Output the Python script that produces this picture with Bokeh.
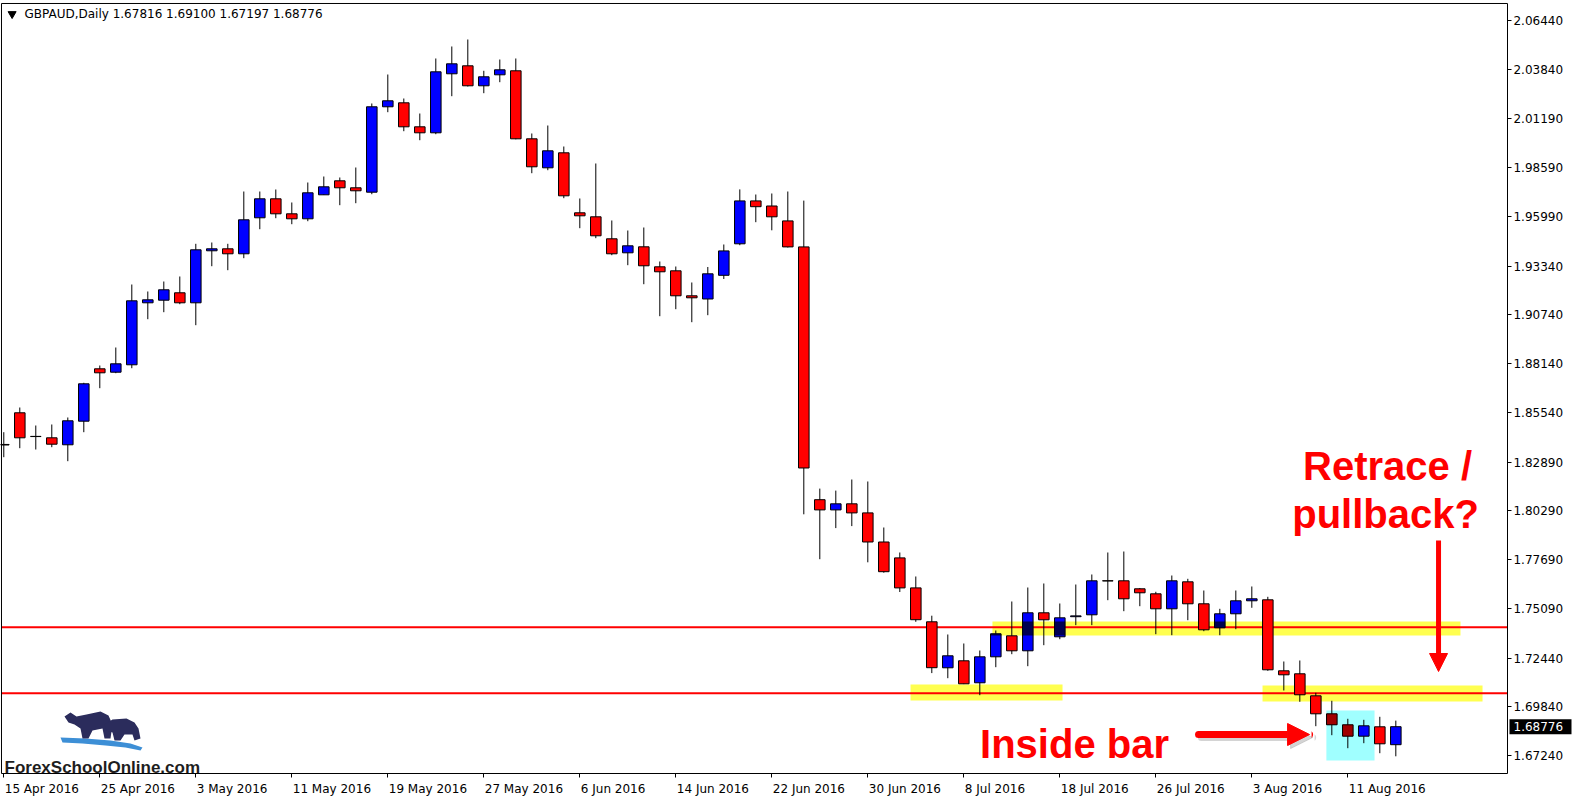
from bokeh.plotting import figure
from bokeh.models import (Range1d, FixedTicker, PrintfTickFormatter, LinearAxis, Arrow,
                          NormalHead)
from bokeh.core.properties import value
from bokeh.embed import file_html
from bokeh.resources import INLINE

# ---------------- data (GBPAUD daily, 15 Apr 2016 .. 16 Aug 2016) ----------------
opens = [1.83830, 1.85518, 1.84260, 1.84184, 1.83811, 1.85070, 1.87864, 1.87683, 1.88078, 1.91384,
         1.91523, 1.91918, 1.91384, 1.94158, 1.94264, 1.93998, 1.95918, 1.96931, 1.96131, 1.95864,
         1.97144, 1.97891, 1.97518, 1.97283, 2.01838, 2.02051, 2.00771, 2.00451, 2.03598, 2.04024,
         2.02958, 2.03544, 2.03758, 2.00131, 1.98584, 1.99384, 1.96184, 1.95971, 1.94798, 1.94051,
         1.94371, 1.93304, 1.93091, 1.91758, 1.91587, 1.92851, 1.94531, 1.96819, 1.96547, 1.95752,
         1.94366, 1.80883, 1.80339, 1.80664, 1.80179, 1.78627, 1.77779, 1.76179, 1.74371, 1.71918,
         1.72291, 1.71118, 1.72504, 1.73624, 1.72824, 1.74851, 1.73571, 1.74643, 1.74744, 1.76560,
         1.76558, 1.76131, 1.75864, 1.75064, 1.76504, 1.75331, 1.74051, 1.74798, 1.75491, 1.75544,
         1.71758, 1.71598, 1.70424, 1.69464, 1.68878, 1.68270, 1.68771, 1.67816]
highs = [1.84483, 1.85800, 1.84840, 1.84894, 1.85267, 1.87118, 1.88040, 1.89000, 1.92360, 1.91987,
         1.92520, 1.92787, 1.94531, 1.94600, 1.94531, 1.97320, 1.97320, 1.97427, 1.96734, 1.97800,
         1.98120, 1.98067, 1.98600, 2.02014, 2.03560, 2.02280, 2.01480, 2.04414, 2.05054, 2.05427,
         2.03758, 2.04360, 2.04414, 2.00414, 2.00840, 1.99720, 1.96947, 1.98814, 1.95774, 1.95240,
         1.95400, 1.93587, 1.93320, 1.92467, 1.93294, 1.94494, 1.97432, 1.97160, 1.97214, 1.97320,
         1.96835, 1.81475, 1.81368, 1.81960, 1.81854, 1.79400, 1.78067, 1.76787, 1.74696, 1.73694,
         1.73214, 1.72840, 1.73907, 1.75454, 1.76200, 1.76414, 1.75347, 1.76360, 1.76894, 1.78067,
         1.78120, 1.76174, 1.75971, 1.76840, 1.76664, 1.76040, 1.75064, 1.76040, 1.76254, 1.75704,
         1.72254, 1.72307, 1.70584, 1.70158, 1.69198, 1.69144, 1.69304, 1.69100]
lows = [1.83150, 1.83630, 1.83560, 1.83683, 1.82936, 1.84483, 1.86830, 1.87630, 1.87896, 1.90510,
        1.90883, 1.91310, 1.90190, 1.93336, 1.93123, 1.93763, 1.95310, 1.95896, 1.95576, 1.95736,
        1.97133, 1.96590, 1.96696, 1.97176, 2.01550, 2.00536, 2.00056, 2.00376, 2.02403, 2.02920,
        2.02563, 2.03150, 2.00104, 1.98296, 1.98456, 1.96963, 1.95363, 1.94830, 1.93923, 1.93390,
        1.92376, 1.90670, 1.91043, 1.90350, 1.90723, 1.92654, 1.94456, 1.95683, 1.95251, 1.94334,
        1.80104, 1.77710, 1.79368, 1.79475, 1.77544, 1.76990, 1.75960, 1.74371, 1.71635, 1.71363,
        1.71048, 1.70456, 1.71950, 1.72643, 1.72003, 1.73123, 1.73443, 1.74190, 1.74190, 1.75523,
        1.74936, 1.75203, 1.73710, 1.73656, 1.74456, 1.73870, 1.73656, 1.73976, 1.75118, 1.71758,
        1.70707, 1.70104, 1.68803, 1.68323, 1.67630, 1.67896, 1.67363, 1.67197]
closes = [1.83800, 1.84184, 1.84250, 1.83843, 1.85091, 1.87064, 1.87651, 1.88131, 1.91491, 1.91544,
          1.92078, 1.91384, 1.94211, 1.94264, 1.93998, 1.95811, 1.96931, 1.96131, 1.95864, 1.97251,
          1.97571, 1.97518, 1.97358, 2.01838, 2.02158, 2.00771, 2.00451, 2.03704, 2.04131, 2.02958,
          2.03438, 2.03811, 2.00131, 1.98638, 1.99491, 1.97091, 1.96024, 1.94958, 1.93998, 1.94424,
          1.93358, 1.93038, 1.91758, 1.91651, 1.92931, 1.94152, 1.96819, 1.96510, 1.95971, 1.94366,
          1.82574, 1.80339, 1.80664, 1.80179, 1.78627, 1.77043, 1.76179, 1.74483, 1.71923, 1.72558,
          1.71064, 1.72504, 1.73731, 1.72824, 1.74851, 1.74478, 1.74584, 1.74686, 1.76558, 1.76550,
          1.75598, 1.75918, 1.75064, 1.76558, 1.75331, 1.73944, 1.74798, 1.75491, 1.75598, 1.71811,
          1.71544, 1.70478, 1.69464, 1.68878, 1.68270, 1.68824, 1.67864, 1.68776]

date_labels = ["15 Apr 2016", "25 Apr 2016", "3 May 2016", "11 May 2016", "19 May 2016",
               "27 May 2016", "6 Jun 2016", "14 Jun 2016", "22 Jun 2016", "30 Jun 2016",
               "8 Jul 2016", "18 Jul 2016", "26 Jul 2016", "3 Aug 2016", "11 Aug 2016"]
date_label_bars = [0, 6, 12, 18, 24, 30, 36, 42, 48, 54, 60, 66, 72, 78, 84]

price_ticks = [2.06440, 2.03840, 2.01190, 1.98590, 1.95990, 1.93340, 1.90740, 1.88140,
               1.85540, 1.82890, 1.80290, 1.77690, 1.75090, 1.72440, 1.69840, 1.67240]

level_lines = [1.74083, 1.70563]

zone_left = [56.67, 61.79, 78.67, 82.66]
zone_right = [66.17, 91.04, 92.42, 85.67]
zone_bottom = [1.70173, 1.73640, 1.70120, 1.66974]
zone_top = [1.71027, 1.74387, 1.70974, 1.69640]
zone_colors = ["#ffff50", "#ffff50", "#ffff50", "#a0ffff"]

# ---------------- layout constants ----------------
BULL = "#0000ff"
BEAR = "#ff0000"
RED = "#ff0000"
W, H = 1575, 800
X_LO, X_HI = -0.206, 98.23          # whole drawing area (bars)
Y_LO, Y_HI = 1.64840, 2.07507       # whole drawing area (price)
X_CHART_L, X_CHART_R = -0.144, 93.98
Y_CHART_B, Y_CHART_T = 1.66280, 2.07347
PX_PER_BAR = W / (X_HI - X_LO)
PX_PER_PRICE = H / (Y_HI - Y_LO)


def hex2rgb(h):
    h = h.lstrip("#")
    return tuple(int(h[i:i + 2], 16) for i in (0, 2, 4))


def multiply(c1, c2):
    a, b = hex2rgb(c1), hex2rgb(c2)
    return "#%02x%02x%02x" % tuple(int(round(x * y / 255)) for x, y in zip(a, b))


n = len(opens)
idx = list(range(n))
body_top = [max(o, c) for o, c in zip(opens, closes)]
body_bot = [min(o, c) for o, c in zip(opens, closes)]
body_col = [BULL if c > o else BEAR for o, c in zip(opens, closes)]

p = figure(width=W, height=H, x_range=Range1d(X_LO, X_HI), y_range=Range1d(Y_LO, Y_HI),
           x_axis_location=None, y_axis_location=None, toolbar_location=None,
           output_backend="svg", min_border=0, min_border_left=0, min_border_right=0,
           min_border_top=0, min_border_bottom=0,
           background_fill_color="white", border_fill_color="white")
p.xgrid.visible = False
p.ygrid.visible = False
p.outline_line_color = None

# highlight zones
p.quad(left=zone_left, right=zone_right, bottom=zone_bottom, top=zone_top,
       fill_color=zone_colors, line_color=None)

# horizontal levels across the chart area
p.segment(x0=[X_CHART_L] * len(level_lines), x1=[X_CHART_R] * len(level_lines),
          y0=level_lines, y1=level_lines, line_color=RED, line_width=2)

# wicks and bodies
p.segment(x0=idx, x1=idx, y0=lows, y1=highs, line_color="black", line_width=1)
p.vbar(x=idx, width=0.66, top=body_top, bottom=body_bot, fill_color=body_col, line_color=None)

ov_x, ov_t, ov_b, ov_c = [], [], [], []
for i in idx:
    for zl, zr, zb, zt, zc in zip(zone_left, zone_right, zone_bottom, zone_top, zone_colors):
        if zl <= i <= zr:
            t, b = min(body_top[i], zt), max(body_bot[i], zb)
            col = multiply(body_col[i], zc)
            if t > b and col != body_col[i]:
                ov_x.append(i); ov_t.append(t); ov_b.append(b); ov_c.append(col)
p.vbar(x=ov_x, width=0.66, top=ov_t, bottom=ov_b, fill_color=ov_c, line_color=None)
p.vbar(x=idx, width=0.66, top=body_top, bottom=body_bot, fill_color=None,
       line_color="black", line_width=1)

# chart border (top and left; right and bottom are the axis lines)
p.segment(x0=[X_CHART_L, X_CHART_L], x1=[X_CHART_R, X_CHART_L],
          y0=[Y_CHART_T, Y_CHART_B], y1=[Y_CHART_T, Y_CHART_T],
          line_color="black", line_width=1)

# ---------------- axes ----------------
yax = LinearAxis(fixed_location=X_CHART_R, bounds=(Y_CHART_B, Y_CHART_T),
                 ticker=FixedTicker(ticks=price_ticks),
                 formatter=PrintfTickFormatter(format="%.5f"))
yax.major_label_text_font = "DejaVu Sans"
yax.major_label_text_font_size = "12px"
yax.major_label_text_color = "black"
yax.major_tick_in = 0
yax.major_tick_out = 4
yax.minor_tick_line_color = None
yax.axis_line_color = "black"
yax.major_label_standoff = 2
p.add_layout(yax, "right")

CW = {d: 0.636 for d in "0123456789"}
CW.update({" ": 0.318, "A": 0.684, "p": 0.635, "r": 0.411, "M": 0.863, "a": 0.613,
           "y": 0.592, "J": 0.295, "u": 0.634, "n": 0.634, "l": 0.278, "g": 0.635})
centers = [round(b + (sum(CW.get(ch, 0.6) for ch in s) * 12 / 2 + 1) / PX_PER_BAR, 3)
           for b, s in zip(date_label_bars, date_labels)]
xax = LinearAxis(fixed_location=Y_CHART_B, bounds=(X_CHART_L, X_CHART_R),
                 ticker=FixedTicker(ticks=centers, minor_ticks=date_label_bars))
xax.major_label_overrides = {c: s for c, s in zip(centers, date_labels)}
xax.major_tick_line_color = None
xax.major_tick_in = 0
xax.major_tick_out = 0
xax.minor_tick_in = 0
xax.minor_tick_out = 4
xax.minor_tick_line_color = "black"
xax.axis_line_color = "black"
xax.major_label_standoff = 4
xax.major_label_text_font = "DejaVu Sans"
xax.major_label_text_font_size = "12px"
xax.major_label_text_color = "black"
p.add_layout(xax, "below")

# ---------------- header ----------------
title = "GBPAUD,Daily  %.5f %.5f %.5f %.5f" % (opens[-1], highs[-1], lows[-1], closes[-1])
p.scatter(x=[0.52], y=[2.0679], marker="inverted_triangle", size=8, fill_color="black",
          line_color="black")
p.text(x=[1.29], y=[2.0679], text=[title], text_font=value("DejaVu Sans"),
       text_font_size="12px", text_baseline="middle", text_align="left", text_color="black")

# current price box on the price scale
box_half = 7.5 / PX_PER_PRICE
p.quad(left=[X_CHART_R + 2 / PX_PER_BAR], right=[X_CHART_R + 64 / PX_PER_BAR],
       bottom=[closes[-1] - box_half], top=[closes[-1] + box_half],
       fill_color="black", line_color=None)
p.text(x=[X_CHART_R + 6 / PX_PER_BAR], y=[closes[-1]], text=["%.5f" % closes[-1]],
       text_font=value("DejaVu Sans"), text_font_size="12px", text_color="white",
       text_baseline="middle", text_align="left")

# ---------------- annotations ----------------
p.text(x=[86.48, 86.36], y=[1.8268, 1.8011], text=["Retrace /", "pullback?"],
       text_font=value("Liberation Sans"), text_font_style="bold", text_font_size="40px",
       text_align="center", text_baseline="alphabetic", text_color=RED)
p.text(x=[66.92], y=[1.6784], text=["Inside bar"],
       text_font=value("Liberation Sans"), text_font_style="bold", text_font_size="40px",
       text_align="center", text_baseline="alphabetic", text_color=RED)

p.add_layout(Arrow(end=NormalHead(size=18, fill_color=RED, line_color=RED),
                   x_start=89.67, y_start=1.78707, x_end=89.67, y_end=1.71720,
                   line_color=RED, line_width=5))
# soft shadow under the right-pointing arrow
p.add_layout(Arrow(end=NormalHead(size=22, fill_color="#b8b8b8", line_color="#b8b8b8",
                                  fill_alpha=0.6, line_alpha=0.6),
                   x_start=74.85, y_start=1.68200, x_end=81.80, y_end=1.68200,
                   line_color="#b8b8b8", line_alpha=0.6, line_width=7, line_cap="round"))
p.add_layout(Arrow(end=NormalHead(size=22, fill_color=RED, line_color=RED),
                   x_start=74.67, y_start=1.68360, x_end=81.61, y_end=1.68360,
                   line_color=RED, line_width=7, line_cap="round"))


# ---------------- logo ----------------
def bx(px):
    return (px - 3.3) / 16


def py(px):
    return 2.07507 - px / 1875


swoosh = [(60, 737), (85, 738), (110, 740), (130, 743), (142, 747), (140, 750), (125, 747),
          (105, 745), (82, 743), (62, 742)]
bull = [(64, 716), (70, 712), (76, 716), (86, 714), (100, 711), (108, 715), (112, 724),
        (110, 738), (104, 738), (102, 728), (92, 730), (88, 738), (82, 738), (80, 728),
        (74, 724), (68, 722)]
bear = [(104, 724), (112, 719), (126, 718), (134, 722), (138, 728), (140, 738), (134, 740),
        (132, 734), (124, 734), (120, 740), (114, 740), (112, 732), (106, 730)]
p.patch([bx(a) for a, b in swoosh], [py(b) for a, b in swoosh], fill_color="#3d8fd6",
        line_color=None)
p.patch([bx(a) for a, b in bull], [py(b) for a, b in bull], fill_color="#2b2c5c",
        line_color=None)
p.patch([bx(a) for a, b in bear], [py(b) for a, b in bear], fill_color="#2b2c5c",
        line_color=None)
p.text(x=[bx(4)], y=[py(767)], text=["ForexSchoolOnline.com"],
       text_font=value("Liberation Sans"), text_font_style="bold",
       text_font_size="17px", text_align="left", text_baseline="alphabetic",
       text_color="#1e1e1e")

open("out.html", "w").write(file_html(p, INLINE))
